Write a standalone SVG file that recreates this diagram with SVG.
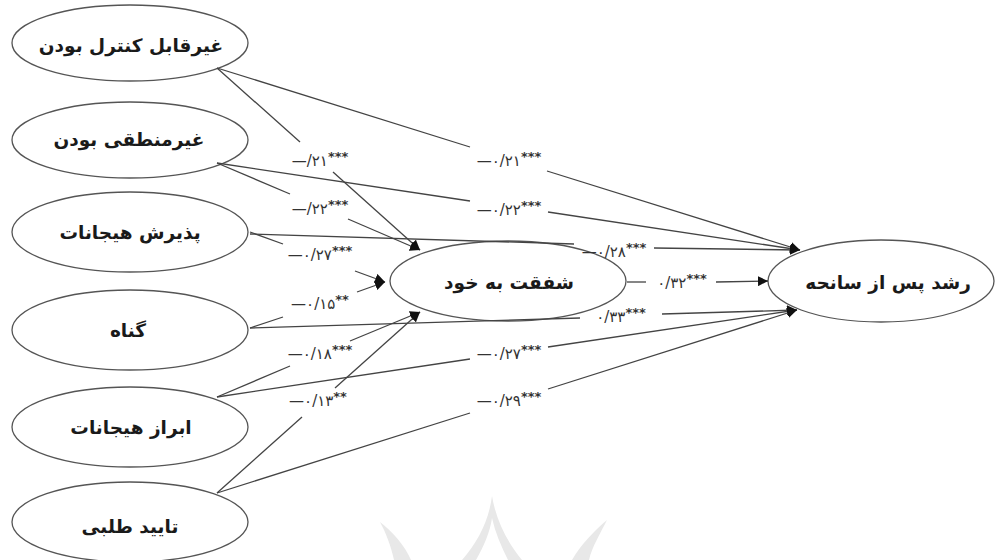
<svg xmlns="http://www.w3.org/2000/svg" width="996" height="560" viewBox="0 0 996 560">
<style>
.node ellipse{fill:#fff;stroke:#555;stroke-width:1.3}
.node text{font-family:"DejaVu Sans",sans-serif;font-weight:bold;font-size:18.5px;fill:#1a1a1a;text-anchor:middle;dominant-baseline:central}
.edge line{stroke:#444;stroke-width:1.3;fill:none}
.edge line.tip{marker-end:url(#arr)}
.lbl{font-family:"DejaVu Sans",sans-serif;font-size:15px;fill:#333;text-anchor:middle;letter-spacing:0.5px}
.lbl .s{font-size:13px;font-weight:bold;letter-spacing:2px}
.wm{fill:#e8e8e8}
</style>
<defs>
<marker id="arr" markerUnits="userSpaceOnUse" markerWidth="12" markerHeight="10" refX="10" refY="5" orient="auto">
<path d="M0,0 L10,5 L0,10 Z" fill="#111"/>
</marker>
</defs>

<!-- faint emblem at the bottom -->
<g id="emblem">
<path class="wm" d="M492,496 C489,520 478,542 462,560 L476,560 C484,546 490,532 492,518 C495,532 501,546 508,560 L522,560 C507,542 496,520 492,496 Z"/>
<path class="wm" d="M380,522 C393,532 405,546 411,560 L394,560 C391,546 386,533 380,522 Z"/>
<path class="wm" d="M607,520 C600,534 592,547 589,560 L572,560 C580,546 593,532 607,520 Z"/>
</g>

<!-- predictor variables -->
<g id="n1" class="node"><ellipse cx="130" cy="43" rx="118" ry="38"/><text x="131" y="45">غیرقابل کنترل بودن</text></g>
<g id="n2" class="node"><ellipse cx="130" cy="140" rx="118" ry="38"/><text x="129" y="139">غیرمنطقی بودن</text></g>
<g id="n3" class="node"><ellipse cx="130" cy="232" rx="118" ry="40"/><text x="130" y="232">پذیرش هیجانات</text></g>
<g id="n4" class="node"><ellipse cx="130" cy="330" rx="118" ry="40"/><text x="128" y="330">گناه</text></g>
<g id="n5" class="node"><ellipse cx="130" cy="427" rx="118" ry="40"/><text x="131" y="427">ابراز هیجانات</text></g>
<g id="n6" class="node"><ellipse cx="130" cy="522" rx="118" ry="40"/><text x="130" y="526">تایید طلبی</text></g>

<!-- mediator and outcome -->
<g id="mid" class="node"><ellipse cx="508" cy="281" rx="118" ry="40"/><text x="509" y="282">شفقت به خود</text></g>
<g id="out" class="node"><ellipse cx="881" cy="281" rx="113" ry="41"/><text x="888" y="282">رشد پس از سانحه</text></g>

<!-- paths with coefficient labels -->
<g id="connectors" class="edge">
<line x1="217" y1="68" x2="300" y2="142"/><line class="tip" x1="333" y1="172" x2="420" y2="250"/>
<line x1="217" y1="68" x2="470" y2="147"/><line class="tip" x1="547" y1="171" x2="800" y2="250"/>
<line x1="217" y1="163" x2="290" y2="194"/><line class="tip" x1="348" y1="219" x2="420" y2="250"/>
<line x1="217" y1="163" x2="470" y2="201"/><line class="tip" x1="548" y1="212" x2="800" y2="250"/>
<line x1="250" y1="232" x2="283" y2="244"/><line class="tip" x1="355" y1="271" x2="385" y2="282"/>
<line x1="250" y1="234" x2="574" y2="244"/><line class="tip" x1="654" y1="248" x2="800" y2="250"/>
<line x1="250" y1="328" x2="283" y2="317"/><line class="tip" x1="357" y1="292" x2="385" y2="282"/>
<line x1="250" y1="328" x2="580" y2="318"/><line class="tip" x1="662" y1="314" x2="797" y2="310"/>
<line x1="217" y1="397" x2="290" y2="366"/><line class="tip" x1="350" y1="341" x2="420" y2="312"/>
<line x1="217" y1="397" x2="470" y2="359"/><line class="tip" x1="548" y1="347" x2="797" y2="310"/>
<line x1="217" y1="493" x2="302" y2="417"/><line class="tip" x1="335" y1="388" x2="420" y2="312"/>
<line x1="217" y1="493" x2="470" y2="413"/><line class="tip" x1="548" y1="389" x2="797" y2="310"/>
<line x1="627" y1="282" x2="646" y2="282"/><line class="tip" x1="716" y1="282" x2="768" y2="281"/>

<text class="lbl" x="320" y="166">—/۲۱<tspan class="s" dy="-5">***</tspan></text>
<text class="lbl" x="509" y="166">—۰/۲۱<tspan class="s" dy="-5">***</tspan></text>
<text class="lbl" x="320" y="214">—/۲۲<tspan class="s" dy="-5">***</tspan></text>
<text class="lbl" x="509" y="215">—۰/۲۲<tspan class="s" dy="-5">***</tspan></text>
<text class="lbl" x="320" y="260">—۰/۲۷<tspan class="s" dy="-5">***</tspan></text>
<text class="lbl" x="614" y="257">—۰/۲۸<tspan class="s" dy="-5">***</tspan></text>
<text class="lbl" x="320" y="309">—۰/۱۵<tspan class="s" dy="-5">**</tspan></text>
<text class="lbl" x="621" y="322">۰/۳۳<tspan class="s" dy="-5">***</tspan></text>
<text class="lbl" x="320" y="359">—۰/۱۸<tspan class="s" dy="-5">***</tspan></text>
<text class="lbl" x="509" y="359">—۰/۲۷<tspan class="s" dy="-5">***</tspan></text>
<text class="lbl" x="318" y="406">—۰/۱۳<tspan class="s" dy="-5">**</tspan></text>
<text class="lbl" x="509" y="406">—۰/۲۹<tspan class="s" dy="-5">***</tspan></text>
<text class="lbl" x="682" y="288">۰/۳۲<tspan class="s" dy="-5">***</tspan></text>
</g>
</svg>
